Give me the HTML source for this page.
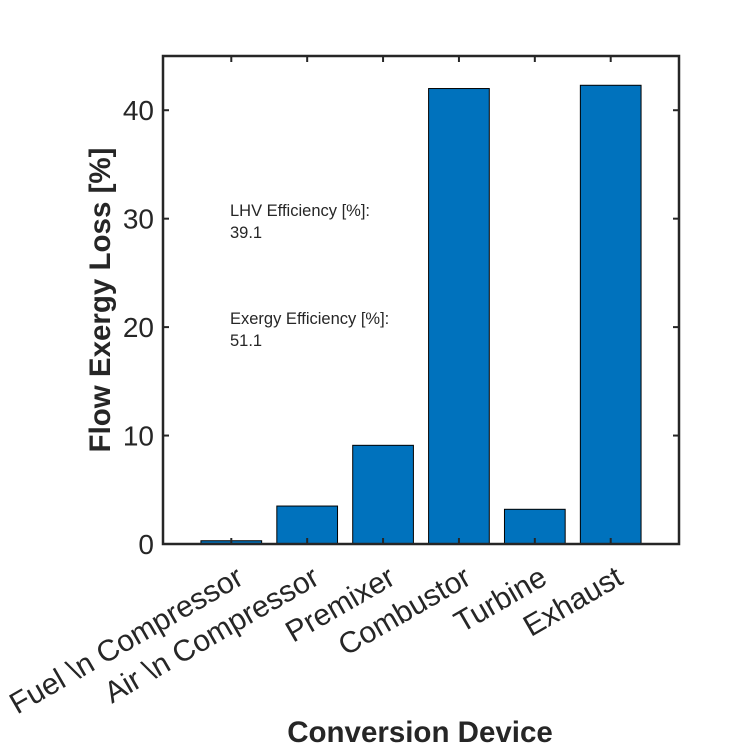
<!DOCTYPE html>
<html><head><meta charset="utf-8"><style>
html,body{margin:0;padding:0;background:#fff;}
svg text{font-family:"Liberation Sans",Arial,sans-serif;fill:#262626;}
</style></head><body>
<svg width="750" height="750" viewBox="0 0 750 750" xmlns="http://www.w3.org/2000/svg">
<g id="bars"></g>
<g id="axes"></g>
<text x="230" y="216" font-size="16.5">LHV Efficiency [%]:</text>
<text x="230" y="238" font-size="16.5">39.1</text>
<text x="230" y="324" font-size="16.5">Exergy Efficiency [%]:</text>
<text x="230" y="346" font-size="16.5">51.1</text>
<text transform="translate(110,300) rotate(-90)" text-anchor="middle" font-size="29.5" font-weight="bold">Flow Exergy Loss [%]</text>
<text x="420" y="742" text-anchor="middle" font-size="29.5" font-weight="bold">Conversion Device</text>
</svg>
<script>
const categories = ["Fuel \\n Compressor","Air \\n Compressor","Premixer","Combustor","Turbine","Exhaust"];
const values = [0.3, 3.5, 9.1, 42.0, 3.2, 42.3];
const yTicks = [0,10,20,30,40];
const yTickLabels = ["0","10","20","30","40"];

const NS="http://www.w3.org/2000/svg";
const L=163,R=679,T=56,B=544,xmin=0.1,xmax=6.9,ymin=0,ymax=45;
const xs=v=>L+(v-xmin)/(xmax-xmin)*(R-L);
const ys=v=>B-(v-ymin)/(ymax-ymin)*(B-T);
function mk(tag,attrs,parent){const e=document.createElementNS(NS,tag);for(const k in attrs)e.setAttribute(k,attrs[k]);parent.appendChild(e);return e;}
const bars=document.getElementById('bars'),axes=document.getElementById('axes');
const bw=0.8*(R-L)/(xmax-xmin);
values.forEach((v,i)=>{
  const cx=xs(i+1);
  const r=mk('rect',{x:cx-bw/2,y:ys(v),width:bw,height:ys(0)-ys(v),fill:'#0072BD',stroke:'#000','stroke-width':1},bars);
  
  
});
const box=mk('rect',{x:L,y:T,width:R-L,height:B-T,fill:'none',stroke:'#262626','stroke-width':2.5},axes);


yTicks.forEach((t,i)=>{
  const y=ys(t);
  mk('line',{x1:L,x2:L+6,y1:y,y2:y,stroke:'#262626','stroke-width':2},axes);
  mk('line',{x1:R,x2:R-6,y1:y,y2:y,stroke:'#262626','stroke-width':2},axes);
  const tx=mk('text',{x:L-9,y:y+10,'text-anchor':'end','font-size':28},axes);
  tx.textContent=yTickLabels[i];
  
  
});
categories.forEach((c,i)=>{
  const x=xs(i+1);
  mk('line',{x1:x,x2:x,y1:B,y2:B-6,stroke:'#262626','stroke-width':2},axes);
  mk('line',{x1:x,x2:x,y1:T,y2:T+6,stroke:'#262626','stroke-width':2},axes);
  const tx=mk('text',{transform:`translate(${x+14},${B+39}) rotate(-30)`,'text-anchor':'end','font-size':30},axes);
  tx.textContent=c;
  
  
});
</script>
</body></html>
